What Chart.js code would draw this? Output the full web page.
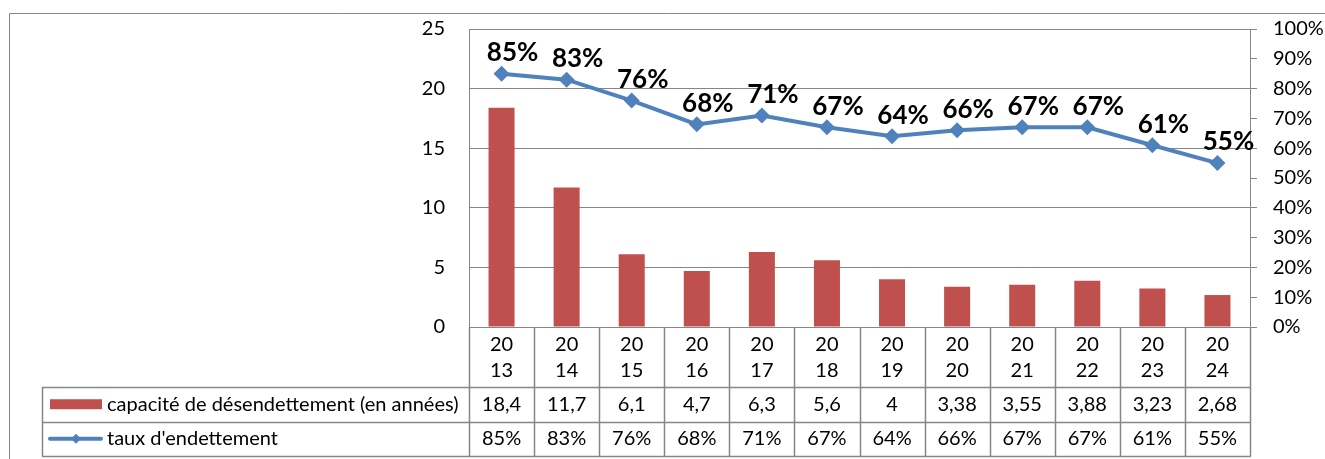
<!DOCTYPE html>
<html>
<head>
<meta charset="utf-8">
<script src="https://cdn.jsdelivr.net/npm/chart.js@4"></script>
<style>
  html, body { margin: 0; padding: 0; background: #fff; }
  #wrap { width: 1325px; height: 459px; }
</style>
</head>
<body>
<div id="wrap"><canvas id="chart" width="1325" height="459"></canvas></div>
<script>
// ---- DATA ----
const years = ['2013', '2014', '2015', '2016', '2017', '2018', '2019', '2020', '2021', '2022', '2023', '2024'];
const capacite = [18.4, 11.7, 6.1, 4.7, 6.3, 5.6, 4, 3.38, 3.55, 3.88, 3.23, 2.68];
const tauxEndettement = [0.85, 0.83, 0.76, 0.68, 0.71, 0.67, 0.64, 0.66, 0.67, 0.67, 0.61, 0.55];
const seriesNames = ['capacité de désendettement (en années)', "taux d'endettement"];

// ---- STYLE ----
const RED = '#C0504D';
const BLUE = '#4F81BD';
const GRID = '#868686';
const FONT = 'Lato';

// year labels are split over two lines, like in the narrow table cells
const xLabels = years.map(y => [y.slice(0, 2), y.slice(2)]);
const fmtDecimal = v => String(v).replace('.', ',');
const fmtPct = v => Math.round(v * 100) + '%';

// ---- PLUGINS ----
// outer frame of the chart object (only top and left edges are visible)
const framePlugin = {
    id: 'frame',
    beforeDraw(chart) {
        const ctx = chart.ctx;
        ctx.save();
        ctx.strokeStyle = GRID;
        ctx.lineWidth = 1;
        ctx.beginPath();
        ctx.moveTo(9.5, chart.height);
        ctx.lineTo(9.5, 13.5);
        ctx.lineTo(chart.width, 13.5);
        ctx.stroke();
        ctx.restore();
    }
};

// bold percentage labels above the line markers
const pointLabelPlugin = {
    id: 'pointLabels',
    afterDatasetsDraw(chart) {
        const ctx = chart.ctx;
        const meta = chart.getDatasetMeta(1);
        ctx.save();
        ctx.font = 'bold 26px ' + FONT;
        ctx.fillStyle = '#000';
        ctx.textAlign = 'center';
        ctx.textBaseline = 'middle';
        meta.data.forEach((pt, i) => {
            ctx.fillText(fmtPct(tauxEndettement[i]), pt.x + 11, pt.y - 21);
        });
        ctx.restore();
    }
};

// data table under the x axis, with legend keys in the first column
const tablePlugin = {
    id: 'dataTable',
    afterDraw(chart) {
        const ctx = chart.ctx;
        const xs = chart.scales.x;
        const area = chart.chartArea;
        const n = years.length;
        const colW = (area.right - area.left) / n;
        const rowTop = xs.bottom;
        const rowH = (chart.height - 3 - rowTop) / 2;
        const legendLeft = 42;
        const bottom = rowTop + rowH * 2;

        ctx.save();
        ctx.strokeStyle = GRID;
        ctx.lineWidth = 1.5;
        ctx.beginPath();
        // vertical cell borders
        for (let i = 0; i <= n; i++) {
            const px = Math.round(area.left + i * colW) + 0.5;
            ctx.moveTo(px, area.bottom);
            ctx.lineTo(px, bottom);
        }
        ctx.moveTo(legendLeft + 0.5, rowTop);
        ctx.lineTo(legendLeft + 0.5, bottom);
        // horizontal row borders
        for (let r = 0; r <= 2; r++) {
            const py = Math.round(rowTop + r * rowH) + 0.5;
            ctx.moveTo(legendLeft, py);
            ctx.lineTo(area.right + 1, py);
        }
        ctx.stroke();

        // cell values
        ctx.fillStyle = '#000';
        ctx.font = '20px ' + FONT;
        ctx.textAlign = 'center';
        ctx.textBaseline = 'middle';
        for (let i = 0; i < n; i++) {
            const cx = xs.getPixelForValue(i);
            ctx.fillText(fmtDecimal(capacite[i]), cx, rowTop + rowH * 0.5);
            ctx.fillText(fmtPct(tauxEndettement[i]), cx, rowTop + rowH * 1.5);
        }

        // legend keys
        const y1 = rowTop + rowH * 0.5;
        const y2 = rowTop + rowH * 1.5;
        ctx.fillStyle = RED;
        ctx.fillRect(50, y1 - 5, 52, 10);
        ctx.strokeStyle = BLUE;
        ctx.lineWidth = 4;
        ctx.lineCap = 'round';
        ctx.beginPath();
        ctx.moveTo(50, y2);
        ctx.lineTo(101, y2);
        ctx.stroke();
        ctx.fillStyle = BLUE;
        ctx.beginPath();
        ctx.moveTo(76, y2 - 5);
        ctx.lineTo(81, y2);
        ctx.lineTo(76, y2 + 5);
        ctx.lineTo(71, y2);
        ctx.closePath();
        ctx.fill();

        ctx.fillStyle = '#000';
        ctx.textAlign = 'left';
        ctx.fillText(seriesNames[0], 107, y1);
        ctx.fillText(seriesNames[1], 107, y2);
        ctx.restore();
    }
};

// the big tick padding would otherwise push the plot area down
function fixVerticalAxis(width) {
    return s => {
        s.width = width;
        s.paddingTop = 0;
        s.paddingBottom = 0;
    };
}

// ---- CHART ----
const ctx = document.getElementById('chart').getContext('2d');
new Chart(ctx, {
    type: 'bar',
    data: {
        labels: xLabels,
        datasets: [{
            label: seriesNames[0],
            data: capacite,
            backgroundColor: RED,
            barPercentage: 0.4,
            categoryPercentage: 1,
            yAxisID: 'y',
            order: 1
        }, {
            type: 'line',
            label: seriesNames[1],
            data: tauxEndettement,
            borderColor: BLUE,
            backgroundColor: BLUE,
            borderWidth: 4,
            pointStyle: 'rectRot',
            pointRadius: 8,
            pointBorderWidth: 0,
            tension: 0,
            yAxisID: 'y1',
            order: 0
        }]
    },
    options: {
        responsive: false,
        animation: false,
        layout: { padding: { top: 29, left: 0, right: 0, bottom: 72 } },
        plugins: {
            legend: { display: false },
            tooltip: { enabled: false }
        },
        scales: {
            x: {
                grid: { display: false },
                border: { display: false },
                ticks: {
                    color: '#000',
                    font: { family: FONT, size: 20, lineHeight: '26px' },
                    padding: -3,
                    maxRotation: 0,
                    autoSkip: false
                },
                afterFit: s => { s.height = 60; }
            },
            y: {
                position: 'left',
                min: 0,
                max: 25,
                ticks: {
                    stepSize: 5,
                    color: '#000',
                    font: { family: FONT, size: 20 },
                    padding: 24
                },
                grid: { color: GRID, drawTicks: false },
                border: { display: true, color: GRID },
                afterFit: fixVerticalAxis(469)
            },
            y1: {
                position: 'right',
                min: 0,
                max: 1,
                ticks: {
                    stepSize: 0.1,
                    color: '#000',
                    font: { family: FONT, size: 20 },
                    padding: 16,
                    callback: v => fmtPct(v)
                },
                grid: { drawOnChartArea: false, drawTicks: true, tickLength: 7, color: GRID },
                border: { display: true, color: GRID },
                afterFit: fixVerticalAxis(75)
            }
        }
    },
    plugins: [framePlugin, pointLabelPlugin, tablePlugin]
});
</script>
</body>
</html>
